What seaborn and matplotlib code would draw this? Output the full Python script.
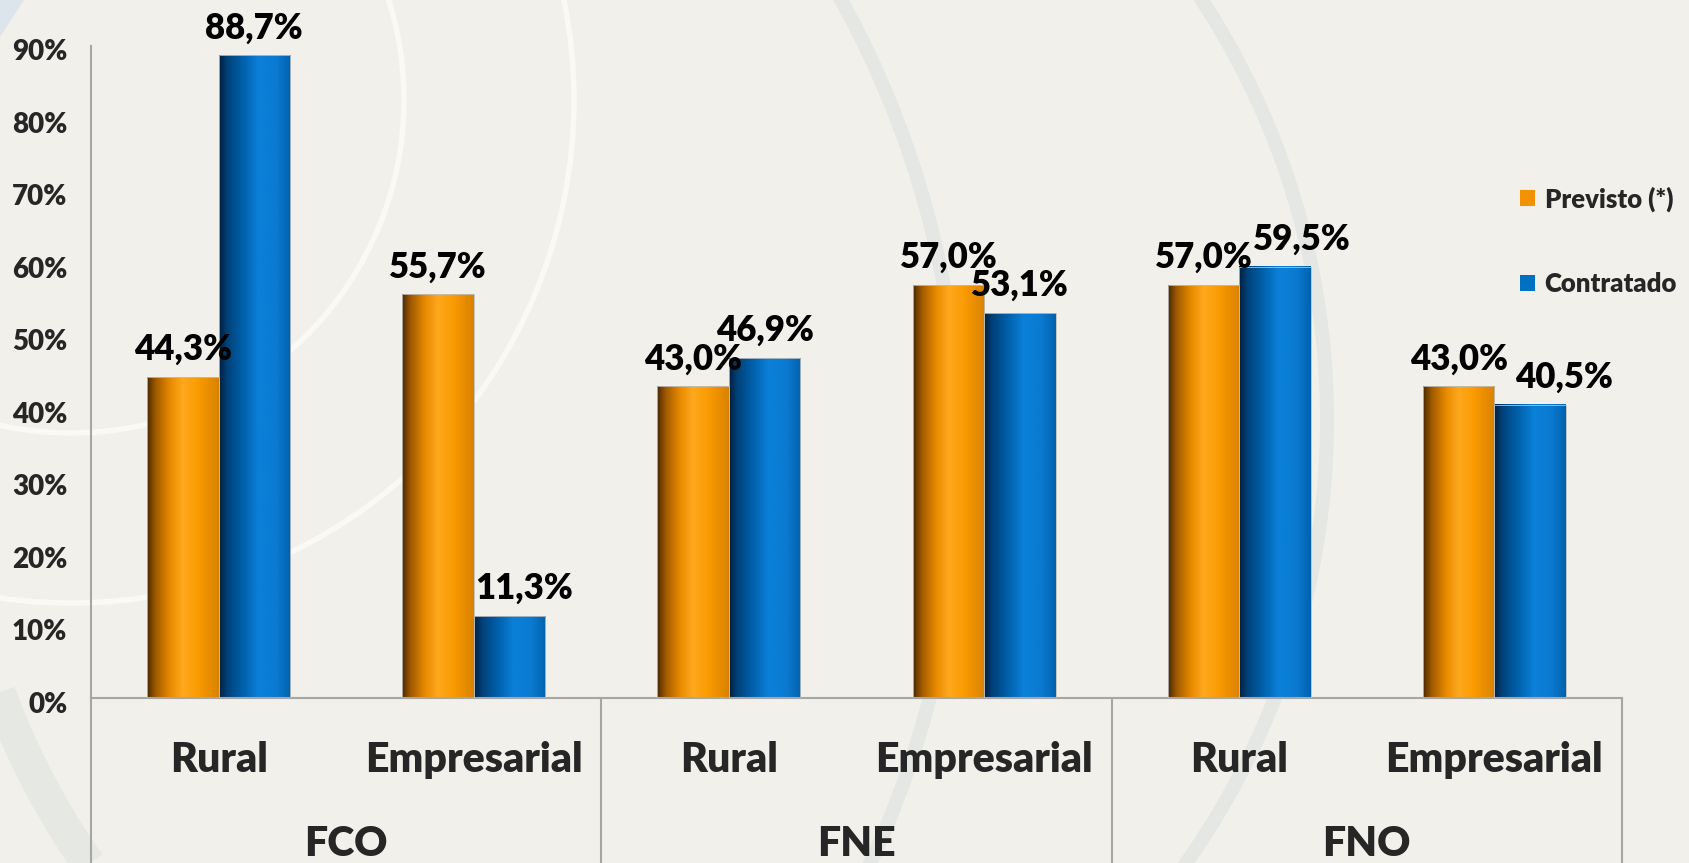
import numpy as np
import pandas as pd
import seaborn as sns
import matplotlib.pyplot as plt
from matplotlib.colors import LinearSegmentedColormap
from matplotlib.patches import Circle, Patch, Polygon
from matplotlib.transforms import blended_transform_factory, ScaledTranslation

# data
fundos = ['FCO', 'FNE', 'FNO']
setores = ['Rural', 'Empresarial']
series = ['Previsto (*)', 'Contratado']
previsto = [44.3, 55.7, 43.0, 57.0, 57.0, 43.0]
contratado = [88.7, 11.3, 46.9, 53.1, 59.5, 40.5]
yticks = [0, 10, 20, 30, 40, 50, 60, 70, 80, 90]

# labels that were nudged sideways in the original (pixels)
nudge = {(1, 1): 15, (1, 4): 27, (1, 5): 34}

cores = {'Previsto (*)': '#F39200', 'Contratado': '#0070C0'}
cmap_o = LinearSegmentedColormap.from_list('o', [(0, '#4A2800'), (0.12, '#A05A00'), (0.32, '#E88A00'),
                                                 (0.5, '#FFA91E'), (0.72, '#FA9A00'), (1, '#D98200')])
cmap_b = LinearSegmentedColormap.from_list('b', [(0, '#00203F'), (0.12, '#00427A'), (0.32, '#005FA8'),
                                                 (0.55, '#0B80D9'), (0.8, '#0B7AD0'), (1, '#0062AE')])

sns.set_theme(style='white')
plt.rcParams['font.family'] = ['Lato', 'DejaVu Sans']
WT = 'heavy'

W, H = 1690, 863
fig = plt.figure(figsize=(W / 100, H / 100), dpi=100, facecolor='#F2F0EA')

# decorative background
bg = fig.add_axes([0, 0, 1, 1], zorder=0)
bg.set_xlim(0, W)
bg.set_ylim(H, 0)
bg.axis('off')
bg.add_patch(Circle((71, 100), 333, fill=False, ec='#F9F9F5', lw=4))
bg.add_patch(Circle((71, 100), 503, fill=False, ec='#F9F9F5', lw=4))
bg.add_patch(Circle((10, 460), 950, fill=False, ec='#E4E7E3', lw=10))
bg.add_patch(Circle((560, 420), 767, fill=False, ec='#E4E7E3', lw=10))
yy = np.linspace(640, 900, 60)
bg.plot(703 - np.sqrt(750 ** 2 - (yy - 434) ** 2), yy, color='#E6E8E4', lw=24, solid_capstyle='butt')
bg.add_patch(Polygon([(0, 0), (24, 0), (0, 37)], closed=True, color='#DCE5EC', lw=0))

ax = fig.add_axes([91 / W, 1 - 698 / H, (1622 - 91) / W, (698 - 46) / H], zorder=1)
ax.set_facecolor('none')

keys = [f'{f} {s}' for f in fundos for s in setores]
df = pd.DataFrame({'grupo': keys * 2,
                   'serie': [series[0]] * 6 + [series[1]] * 6,
                   'valor': previsto + contratado})

sns.barplot(data=df, x='grupo', y='valor', hue='serie', order=keys, hue_order=series,
            palette=cores, width=0.56, gap=0, saturation=1, legend=False, ax=ax)

# gradient fill for the bars
grad = np.linspace(0, 1, 256).reshape(1, -1)
pad = 8
for j, (cont, cmap, vals) in enumerate(zip(ax.containers, [cmap_o, cmap_b], [previsto, contratado])):
    for bar in cont:
        x0, w, h = bar.get_x(), bar.get_width(), bar.get_height()
        ax.imshow(grad, cmap=cmap, extent=[x0, x0 + w, 0, h], aspect='auto', zorder=2,
                  interpolation='bicubic')
        bar.set_facecolor('none')
        bar.set_edgecolor('#BDBDBD')
        bar.set_linewidth(0.6)
        bar.set_zorder(3)
    texts = ax.bar_label(cont, labels=[f'{v:.1f}%'.replace('.', ',') for v in vals], padding=pad,
                         fontsize=25, fontweight=WT, color='black', zorder=4)
    for i, t in enumerate(texts):
        dx = nudge.get((j, i), 0)
        t.xyann = (dx * 72 / 100, pad)

ax.set_xlim(-0.5, 5.5)
ax.set_ylim(0, 90)
ax.set_xlabel('')
ax.set_ylabel('')

ax.set_xticks(range(6))
ax.set_xticklabels([])
ax.tick_params(axis='x', length=0)
ax.set_yticks(yticks)
ax.set_yticklabels([f'{t}%' for t in yticks], fontsize=20, fontweight=WT)
ax.tick_params(axis='y', length=0, pad=17)
for lab in ax.get_yticklabels():
    lab.set_transform(lab.get_transform() + ScaledTranslation(0, -4 / 100, fig.dpi_scale_trans))

for s in ['top', 'right']:
    ax.spines[s].set_visible(False)
for s in ['left', 'bottom']:
    ax.spines[s].set_color('#A6A6A6')
    ax.spines[s].set_linewidth(1.5)

# two level category axis
tr_ax = blended_transform_factory(ax.transData, ax.transAxes)
tr_fig = blended_transform_factory(ax.transData, fig.transFigure)
for xv in [-0.5, 1.5, 3.5, 5.5]:
    ax.plot([xv, xv], [0, -0.3], transform=tr_ax, color='#A6A6A6', lw=1.5, clip_on=False)
for i, k in enumerate(keys):
    ax.text(i, 1 - 772 / H, setores[i % 2], transform=tr_fig, ha='center', va='baseline',
            fontsize=29.5, fontweight=WT)
for i, f in enumerate(fundos):
    ax.text(2 * i + 0.5, 1 - 856 / H, f, transform=tr_fig, ha='center', va='baseline',
            fontsize=29.5, fontweight=WT)

handles = [Patch(facecolor=cores[s], edgecolor='none') for s in series]
fig.legend(handles, series, loc='upper left', bbox_to_anchor=(1520 / W, 1 - 186 / H),
           frameon=False, prop={'weight': WT, 'size': 18.5}, handlelength=0.58,
           handleheight=0.58, handletextpad=0.38, labelspacing=2.35, borderpad=0,
           borderaxespad=0)

fig.savefig('out.png', dpi=100, facecolor=fig.get_facecolor())
